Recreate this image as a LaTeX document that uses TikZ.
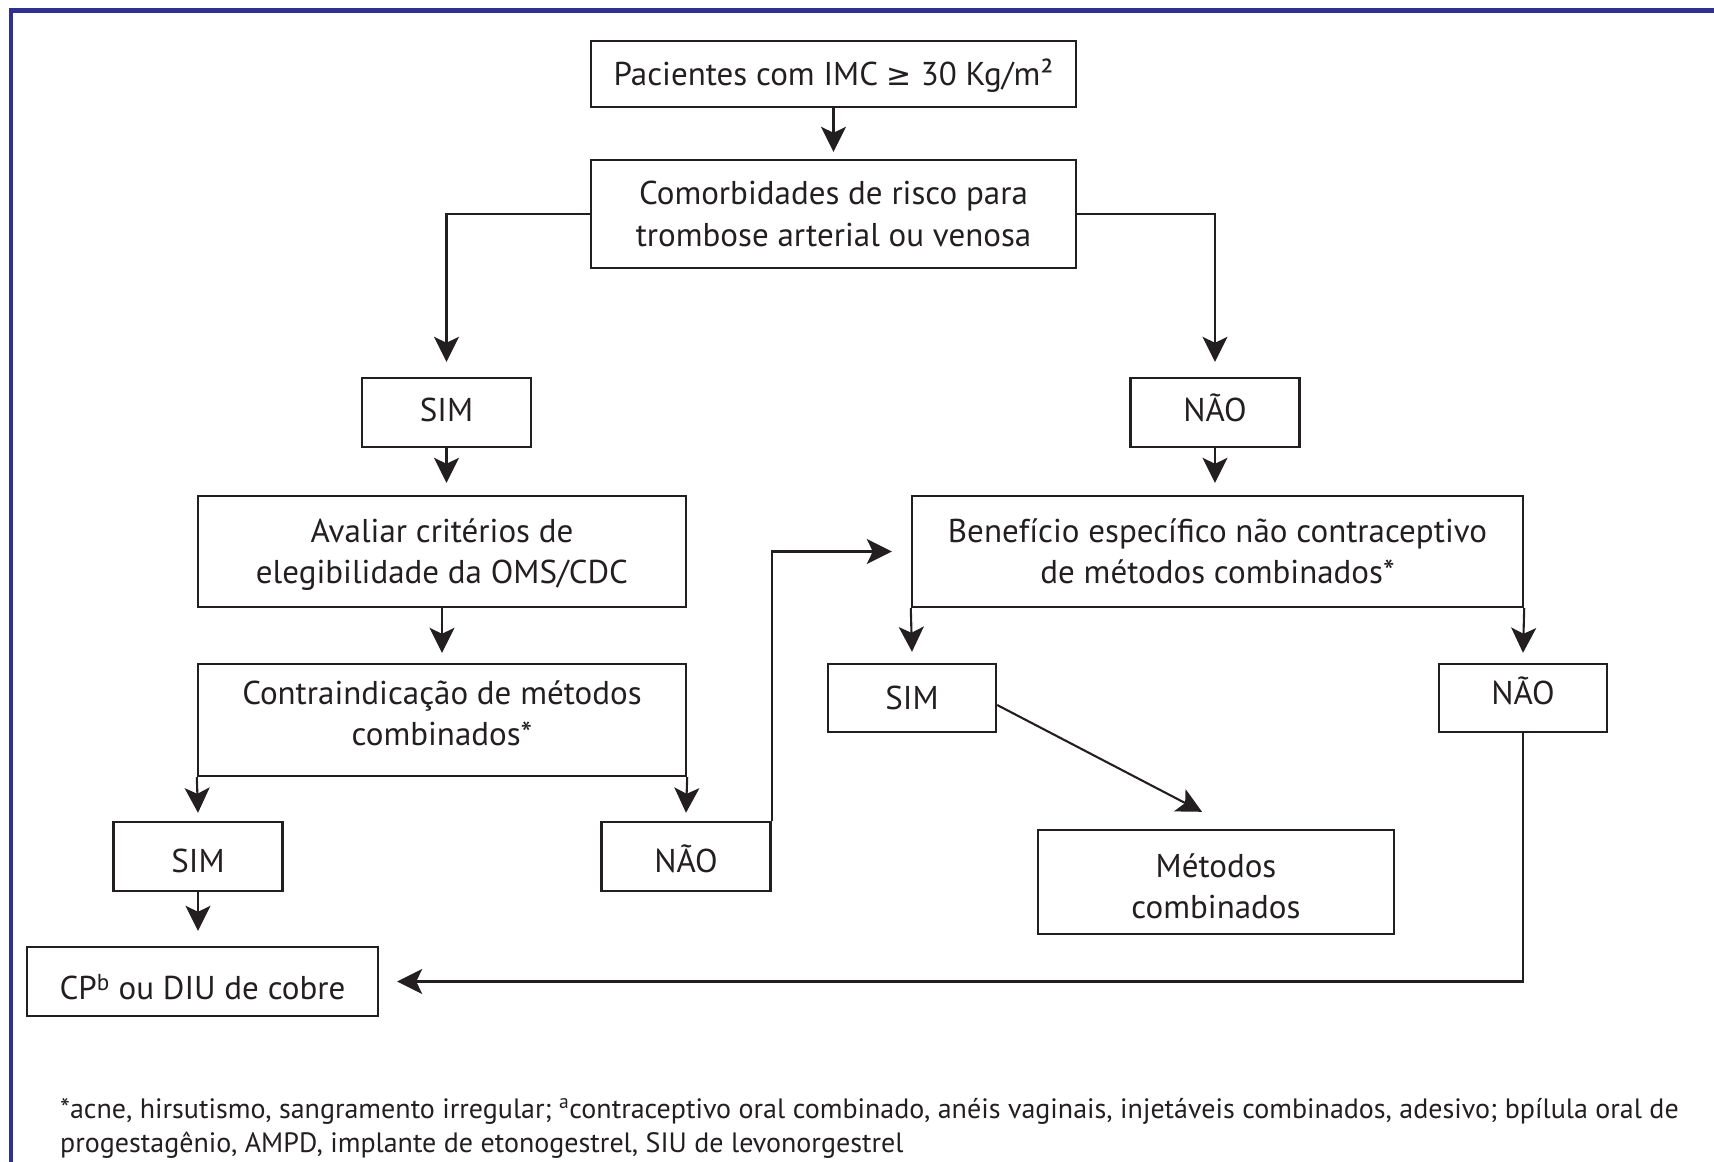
\documentclass[tikz,border=0pt]{standalone}
\usepackage{fontspec}
\setmainfont{PT Sans}
\newfontfamily\symf{DejaVu Sans}
\usetikzlibrary{arrows.meta}
\definecolor{framecol}{HTML}{2E3192}
\definecolor{ink}{HTML}{231F20}
\newcommand{\shiftline}[2]{\raisebox{#1}[\height][\depth]{#2}}
\begin{document}
\begin{tikzpicture}[x=1pt,y=-1pt,
  box/.style={draw=ink, line width=2.4pt, inner sep=0pt, align=center, text=ink,
    font=\fontsize{33}{41.5}\selectfont},
  arr/.style={draw=ink, line width=2.1pt, -{Stealth[length=25pt,width=25pt,inset=6pt]}},
  foot/.style={anchor=base west, inner sep=0pt, text=ink, font=\fontsize{28}{34}\selectfont}]
\useasboundingbox (0,0) rectangle (1714,1162);
\draw[framecol, line width=4.5pt] (11,1170) -- (11,10.5) -- (1720,10.5);

\node[box, minimum width=485pt, minimum height=66pt] (pac) at (833.5,74) {\shiftline{-2pt}{Pacientes com IMC {\symf\fontsize{30}{36}\selectfont ≥} 30 Kg/m²}};
\node[box, minimum width=485pt, minimum height=108pt] (com) at (833.5,214) {Comorbidades de risco para\\trombose arterial ou venosa};
\node[box, minimum width=169pt, minimum height=69pt] (sim1) at (446.5,412.5) {\shiftline{3pt}{SIM}};
\node[box, minimum width=169pt, minimum height=69pt] (nao1) at (1215,412.5) {\shiftline{4.5pt}{NÃO}};
\node[box, minimum width=488pt, minimum height=111pt] (ava) at (442,551.5) {\shiftline{-3pt}{Avaliar critérios de}\\\shiftline{-3pt}{elegibilidade da OMS/CDC}};
\node[box, minimum width=611pt, minimum height=111pt] (ben) at (1217.5,551.5) {Benefício específico não contraceptivo\\de métodos combinados*};
\node[box, minimum width=488pt, minimum height=112pt, text depth=14pt] (con) at (442,720) {Contraindicação de métodos\\combinados*};
\node[box, minimum width=168pt, minimum height=68pt] (sim2) at (912,698) {SIM};
\node[box, minimum width=168pt, minimum height=68pt, text depth=14pt] (nao2) at (1523,698) {NÃO};
\node[box, minimum width=169pt, minimum height=69pt] (sim3) at (198,856.5) {\shiftline{-4.5pt}{SIM}};
\node[box, minimum width=169pt, minimum height=69pt] (nao3) at (686,856.5) {\shiftline{-2pt}{NÃO}};
\node[box, minimum width=356pt, minimum height=104pt] (met) at (1216,882) {\shiftline{-4.5pt}{Métodos}\\\shiftline{-4.5pt}{combinados}};
\node[box, minimum width=351pt, minimum height=69pt] (cp) at (202.5,981.5) {\shiftline{-5.5pt}{CP\textsuperscript{b} ou DIU de cobre}};

\draw[arr] (pac.south) -- ([yshift=7pt]com.north);
\draw[arr] (com.west) -| ([yshift=15pt]sim1.north);
\draw[arr] (com.east) -| ([yshift=15pt]nao1.north);
\draw[arr] (sim1.south) -- ([yshift=12pt]sim1.south |- ava.north);
\draw[arr] (nao1.south) -- ([yshift=12pt]nao1.south |- ben.north);
\draw[arr] (ava.south) -- ([yshift=10pt]con.north);
\draw[arr] (con.south west) -- ([yshift=8pt]sim3.north);
\draw[arr] (con.south east) -- ([yshift=8pt]nao3.north);
\draw[arr] (sim3.south) -- ([yshift=15pt]sim3.south |- cp.north);
\draw[arr] (nao3.north east) |- ([xshift=-19pt]ben.west);
\draw[arr] (ben.south west) -- ([yshift=11pt]sim2.north);
\draw[arr] (ben.south east) -- ([yshift=10pt]nao2.north);
\draw[arr] ([yshift=-7pt]sim2.east) -- ([xshift=-14pt,yshift=17pt]met.north);
\draw[arr] (nao2.south) |- ([xshift=18pt]cp.east);

\node[foot] (f1) at (60,1118) {*acne, hirsutismo, sangramento irregular; \textsuperscript{a}contraceptivo oral combinado, anéis vaginais, injetáveis combinados, adesivo; bpílula oral de};
\node[foot] (f2) at (60,1152) {progestagênio, AMPD, implante de etonogestrel, SIU de levonorgestrel};
\end{tikzpicture}
\end{document}
